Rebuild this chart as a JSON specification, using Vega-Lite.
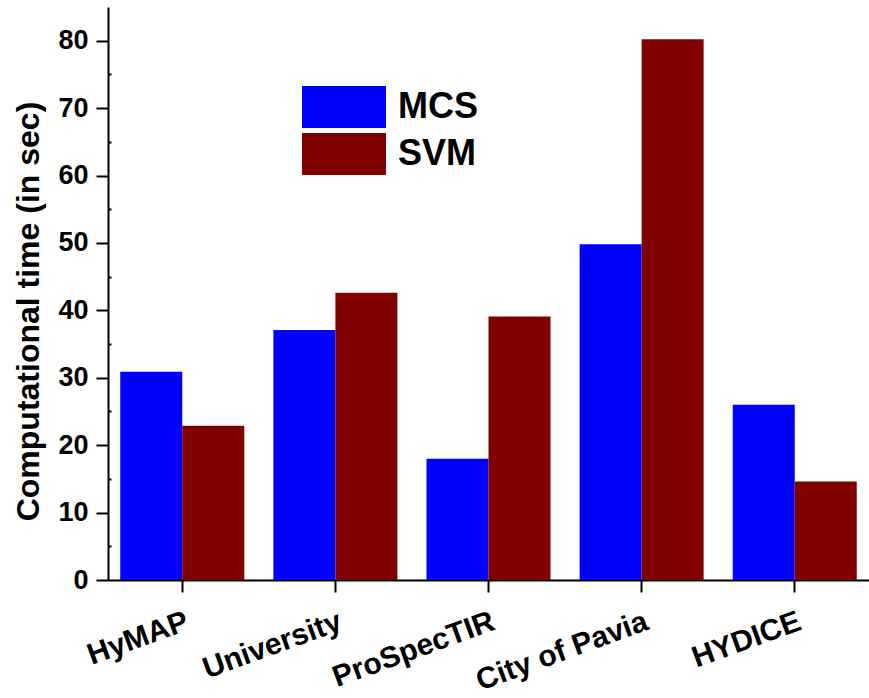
{
  "$schema": "https://vega.github.io/schema/vega-lite/v6.json",
  "width": 761,
  "height": 573,
  "autosize": "none",
  "padding": {"left": 108, "top": 7, "right": 0, "bottom": 118},
  "background": "white",
  "config": {
    "view": {"stroke": null},
    "font": "Liberation Sans"
  },
  "data": {
    "values": [
      {"dataset": "HyMAP", "method": "MCS", "time": 30.9},
      {"dataset": "HyMAP", "method": "SVM", "time": 22.9},
      {"dataset": "University", "method": "MCS", "time": 37.1},
      {"dataset": "University", "method": "SVM", "time": 42.6},
      {"dataset": "ProSpecTIR", "method": "MCS", "time": 18.0},
      {"dataset": "ProSpecTIR", "method": "SVM", "time": 39.1},
      {"dataset": "City of Pavia", "method": "MCS", "time": 49.8},
      {"dataset": "City of Pavia", "method": "SVM", "time": 80.2},
      {"dataset": "HYDICE", "method": "MCS", "time": 26.0},
      {"dataset": "HYDICE", "method": "SVM", "time": 14.6}
    ]
  },
  "mark": {"type": "bar"},
  "encoding": {
    "x": {
      "field": "dataset",
      "type": "nominal",
      "sort": ["HyMAP", "University", "ProSpecTIR", "City of Pavia", "HYDICE"],
      "scale": {"paddingInner": 0.19, "paddingOuter": 0.08},
      "axis": {
        "title": null,
        "domainColor": "black",
        "domainWidth": 2,
        "tickColor": "black",
        "tickWidth": 2,
        "tickSize": 12,
        "labelAngle": -20,
        "labelAlign": "right",
        "labelBaseline": "top",
        "labelPadding": 14,
        "labelLimit": 0,
        "labelOverlap": false,
        "labelFont": "Liberation Sans",
        "labelFontWeight": "bold",
        "labelFontSize": 30,
        "labelColor": "black"
      }
    },
    "xOffset": {"field": "method", "type": "nominal", "scale": {"paddingInner": 0, "paddingOuter": 0}},
    "y": {
      "field": "time",
      "type": "quantitative",
      "scale": {"domain": [0, 85], "nice": false},
      "axis": {
        "title": "Computational time (in sec)",
        "titleFont": "Liberation Sans",
        "titleFontWeight": "bold",
        "titleFontSize": 32,
        "titleColor": "black",
        "titleX": -80,
        "titleY": 304,
        "titleBaseline": "middle",
        "values": [0, 5, 10, 15, 20, 25, 30, 35, 40, 45, 50, 55, 60, 65, 70, 75, 80],
        "labelExpr": "datum.value % 10 ? '' : datum.label",
        "grid": false,
        "domainColor": "black",
        "domainWidth": 2,
        "tickColor": "black",
        "tickWidth": 2,
        "tickSize": {"condition": {"test": "datum.value % 10", "value": -3}, "value": 12},
        "labelPadding": 8,
        "labelFont": "Liberation Sans",
        "labelFontWeight": "bold",
        "labelFontSize": 27,
        "labelColor": "black"
      }
    },
    "color": {
      "field": "method",
      "type": "nominal",
      "scale": {"domain": ["MCS", "SVM"], "range": ["#0000FF", "#800000"]},
      "legend": {
        "title": null,
        "orient": "none",
        "legendX": 194,
        "legendY": 79,
        "padding": 0,
        "symbolType": "M-1,-0.5H1V0.5H-1Z",
        "symbolSize": 7056,
        "symbolStrokeWidth": 0,
        "symbolOpacity": 1,
        "clipHeight": 42,
        "rowPadding": 5,
        "labelOffset": 12,
        "labelFont": "Liberation Sans",
        "labelFontWeight": "bold",
        "labelFontSize": 36,
        "labelColor": "black"
      }
    }
  }
}
